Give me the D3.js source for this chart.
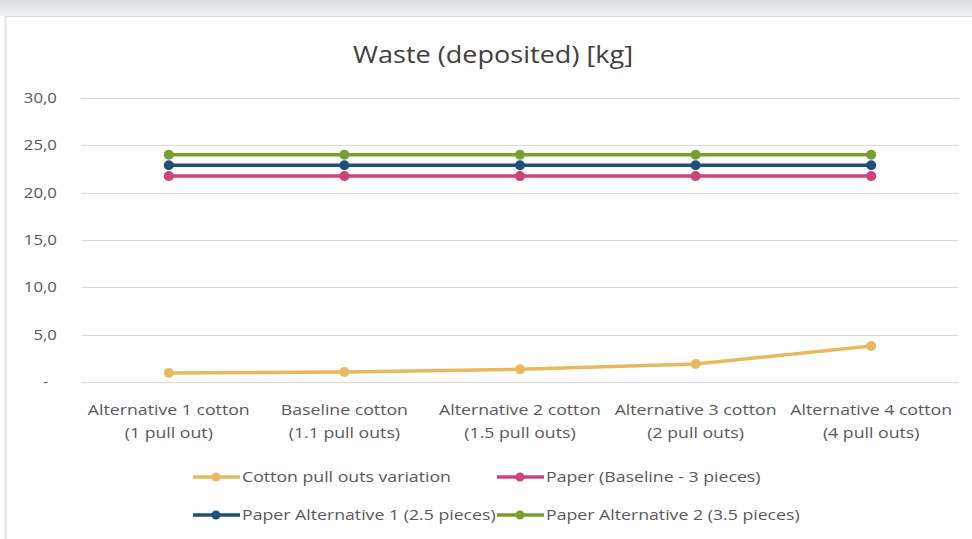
<!DOCTYPE html>
<html><head><meta charset="utf-8">
<script src="https://cdn.jsdelivr.net/npm/d3@7"></script>
<style>body{margin:0;background:#fff;}svg{display:block;}</style>
</head><body>
<script>
const categories = [["Alternative 1 cotton","(1 pull out)"],["Baseline cotton","(1.1 pull outs)"],["Alternative 2 cotton","(1.5 pull outs)"],["Alternative 3 cotton","(2 pull outs)"],["Alternative 4 cotton","(4 pull outs)"]];
const seriesNames = ["Cotton pull outs variation","Paper (Baseline - 3 pieces)","Paper Alternative 1 (2.5 pieces)","Paper Alternative 2 (3.5 pieces)"];
const cottonValues = [0.95, 1.05, 1.35, 1.9, 3.8];
const paperBaseline = [21.75, 21.75, 21.75, 21.75, 21.75];
const paperAlt1 = [22.9, 22.9, 22.9, 22.9, 22.9];
const paperAlt2 = [24.0, 24.0, 24.0, 24.0, 24.0];
const yTicks = [0,5,10,15,20,25,30];
const colors = ["#e9b95f","#d0437a","#1f4e7a","#78a02f"];
const allSeries = [cottonValues, paperBaseline, paperAlt1, paperAlt2];

const W=972,H=539;
const svg=d3.select("body").append("svg").attr("width",W).attr("height",H);
const defs=svg.append("defs");
const g1=defs.append("linearGradient").attr("id","top").attr("x1",0).attr("y1",0).attr("x2",0).attr("y2",1);
g1.append("stop").attr("offset","0%").attr("stop-color","#d9e1e4");
g1.append("stop").attr("offset","100%").attr("stop-color","#eef1f2");
svg.append("rect").attr("x",0).attr("y",0).attr("width",W).attr("height",16).attr("fill","url(#top)");
svg.append("line").attr("x1",5).attr("x2",W).attr("y1",16.5).attr("y2",16.5).attr("stroke","#dcdcdc").attr("stroke-width",1);
svg.append("line").attr("x1",5.5).attr("x2",5.5).attr("y1",16).attr("y2",H).attr("stroke","#e2e2e2").attr("stroke-width",2);

const font="'Open Sans', 'Liberation Sans', sans-serif";
const SCALE=1.22;
function stretch(sel){
  sel.each(function(){
    const w=this.getComputedTextLength();
    d3.select(this).attr("textLength",w*SCALE).attr("lengthAdjust","spacingAndGlyphs");
  });
}

svg.append("text").attr("x",493).attr("y",63).attr("text-anchor","middle")
  .attr("font-family",font).attr("font-size",23).attr("fill","#404040").attr("textLength",280).attr("lengthAdjust","spacingAndGlyphs").text("Waste (deposited)  [kg]");

const x=d3.scaleBand().domain(d3.range(categories.length)).range([81,959]);
const y=d3.scaleLinear().domain([0,30]).range([382,98]);

const grid=svg.append("g");
grid.selectAll("line").data(yTicks).join("line")
  .attr("x1",81).attr("x2",959).attr("y1",d=>Math.round(y(d))+0.5).attr("y2",d=>Math.round(y(d))+0.5)
  .attr("stroke","#d9d9d9").attr("stroke-width",1);

const fmt=d=>d===0?"-":d3.format(".1f")(d).replace(".",",");
svg.append("g").selectAll("text").data(yTicks).join("text")
  .attr("x",d=>d===0?48:57).attr("y",d=>y(d)+5).attr("text-anchor","end")
  .attr("font-family",font).attr("font-size",15).attr("fill","#595959").text(fmt).call(s=>s.each(function(d){ if(d!==0){const w=this.getComputedTextLength(); d3.select(this).attr("textLength",w*1.12).attr("lengthAdjust","spacingAndGlyphs");}}));

const xl=svg.append("g");
categories.forEach((c,i)=>{
  const cx=x(i)+x.bandwidth()/2;
  c.forEach((t,j)=>{
    xl.append("text").attr("x",cx).attr("y",415+j*23).attr("text-anchor","middle")
      .attr("font-family",font).attr("font-size",14.5).attr("fill","#595959").text(t).call(stretch);
  });
});

const line=d3.line().x((d,i)=>x(i)+x.bandwidth()/2).y(d=>y(d));
allSeries.forEach((s,k)=>{
  svg.append("path").datum(s).attr("d",line).attr("fill","none").attr("stroke",colors[k]).attr("stroke-width",3.5);
  svg.append("g").selectAll("circle").data(s).join("circle")
    .attr("cx",(d,i)=>x(i)+x.bandwidth()/2).attr("cy",d=>y(d)).attr("r",5).attr("fill",colors[k]);
});

const legPos=[[193,477],[497,477],[193,515],[497,515]];
seriesNames.forEach((n,k)=>{
  const [lx,ly]=legPos[k];
  const lg=svg.append("g");
  lg.append("line").attr("x1",lx).attr("x2",lx+47).attr("y1",ly).attr("y2",ly).attr("stroke",colors[k]).attr("stroke-width",3.5);
  lg.append("circle").attr("cx",lx+23).attr("cy",ly).attr("r",4.5).attr("fill",colors[k]);
  lg.append("text").attr("x",lx+49).attr("y",ly+5).attr("font-family",font).attr("font-size",14.5).attr("fill","#595959").text(n).call(stretch);
});
</script>
</body></html>
